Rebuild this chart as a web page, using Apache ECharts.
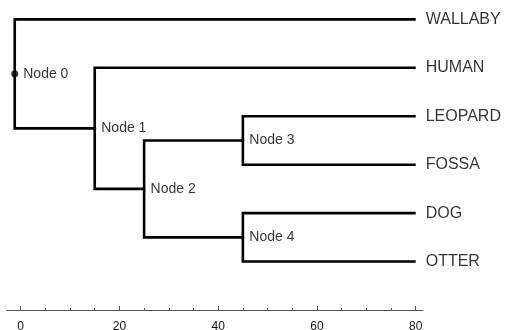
<!DOCTYPE html>
<html><head><meta charset="utf-8">
<script src="https://cdn.jsdelivr.net/npm/echarts@6/dist/echarts.min.js"></script>
<style>html,body{margin:0;padding:0;background:#fff}#c{width:508px;height:330px}</style>
</head><body><div id="c"></div>
<script>
// Tree data: node names, their parents, and branch positions (x)
const nodeNames   = ['Node 0', 'Node 1', 'Node 2', 'Node 3', 'Node 4', 'WALLABY', 'HUMAN', 'LEOPARD', 'FOSSA', 'DOG', 'OTTER'];
const nodeParents = [null, 'Node 0', 'Node 1', 'Node 2', 'Node 2', 'Node 0', 'Node 1', 'Node 3', 'Node 3', 'Node 4', 'Node 4'];
const nodeX       = [-1.2, 15, 25, 45, 45, 80, 80, 80, 80, 80, 80];
const leafOrder   = ['WALLABY', 'HUMAN', 'LEOPARD', 'FOSSA', 'DOG', 'OTTER'];
const xTicks      = [0, 20, 40, 60, 80];

// Layout: leaves at their order index, internal nodes midway between children
const yOf = {};
leafOrder.forEach((n, i) => { yOf[n] = i; });
function getY(name) {
  if (name in yOf) return yOf[name];
  const kids = nodeNames.filter((n, i) => nodeParents[i] === name).map(getY);
  const y = (Math.min(...kids) + Math.max(...kids)) / 2;
  yOf[name] = y;
  return y;
}
nodeNames.forEach(getY);
const xOf = {};
nodeNames.forEach((n, i) => { xOf[n] = nodeX[i]; });
const edges = [];
nodeNames.forEach((n, i) => {
  const p = nodeParents[i];
  if (p) edges.push([xOf[p], yOf[p], nodeX[i], yOf[n]]);
});
const isLeaf = n => leafOrder.indexOf(n) >= 0;
const internalPts = nodeNames.filter(n => !isLeaf(n)).map(n => [xOf[n], yOf[n], n]);
const leafPts = leafOrder.map(n => [xOf[n], yOf[n], n]);

const FONT = '"Liberation Sans", Arial, sans-serif';
const chart = echarts.init(document.getElementById('c'), null, {renderer: 'canvas'});
chart.setOption({
  animation: false,
  backgroundColor: '#fff',
  textStyle: {fontFamily: FONT},
  grid: [
    {left: 7, right: 85, top: 0, bottom: 20, containLabel: false, outerBoundsMode: 'none'},
    {left: 20.67, right: 92.3, top: 0, bottom: 20, containLabel: false, outerBoundsMode: 'none'}
  ],
  xAxis: [
    {gridIndex: 0, type: 'value', min: 0, max: 1, position: 'bottom',
     axisLine: {show: true, onZero: false, lineStyle: {color: '#555', width: 1}},
     axisTick: {show: false}, axisLabel: {show: false}, splitLine: {show: false}},
    {gridIndex: 1, type: 'value', min: xTicks[0], max: xTicks[xTicks.length - 1], interval: 20,
     position: 'bottom',
     axisLine: {show: false, onZero: false},
     axisTick: {show: true, inside: true, length: 4, lineStyle: {color: '#555', width: 1}},
     minorTick: {show: true, splitNumber: 4, length: 2, lineStyle: {color: '#555', width: 1}},
     axisLabel: {fontSize: 12, color: '#111', margin: 11, fontFamily: FONT},
     splitLine: {show: false}, minorSplitLine: {show: false}}
  ],
  yAxis: [
    {gridIndex: 0, type: 'value', show: false, min: 0, max: 1},
    {gridIndex: 1, type: 'value', show: false, inverse: true, min: -0.4, max: 6}
  ],
  series: [
    {
      type: 'custom', xAxisIndex: 1, yAxisIndex: 1, clip: false, silent: true,
      data: edges,
      encode: {x: [0, 2], y: [1, 3]},
      renderItem: function (params, api) {
        const p = api.coord([api.value(0), api.value(1)]);
        const k = api.coord([api.value(0), api.value(3)]);
        const c = api.coord([api.value(2), api.value(3)]);
        return {type: 'polyline', shape: {points: [p, k, c]},
                style: {stroke: '#000', lineWidth: 2.6, fill: null, lineJoin: 'miter'}};
      }
    },
    {
      type: 'scatter', xAxisIndex: 1, yAxisIndex: 1, clip: false, silent: true,
      data: internalPts,
      symbolSize: function (v) { return v[2] === 'Node 0' ? 7 : 3; },
      itemStyle: {color: '#000'},
      label: {show: true, position: 'right', distance: 5, fontSize: 14, color: '#000',
              fontFamily: FONT, formatter: p => p.data[2]}
    },
    {
      type: 'scatter', xAxisIndex: 1, yAxisIndex: 1, clip: false, silent: true,
      data: leafPts,
      symbolSize: 0,
      itemStyle: {color: '#000'},
      label: {show: true, position: 'right', distance: 10, fontSize: 16, color: '#000',
              fontFamily: FONT, formatter: p => p.data[2]}
    }
  ]
});
</script></body></html>
